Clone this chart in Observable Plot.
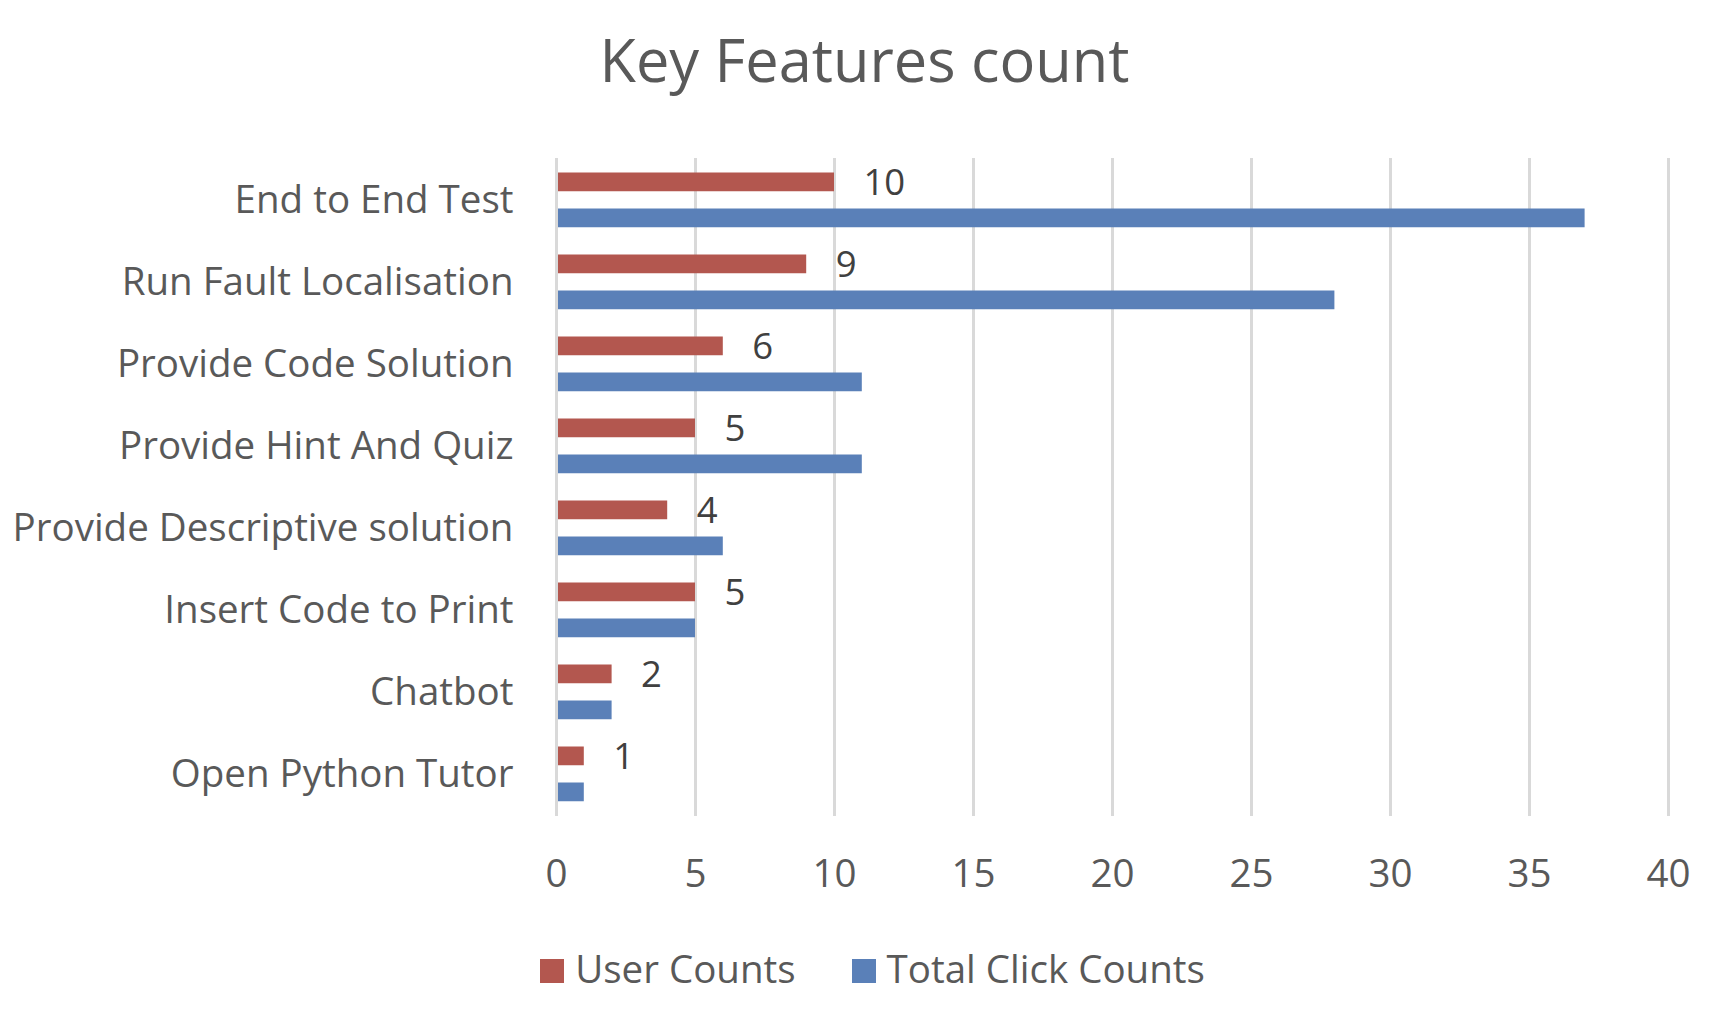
<!DOCTYPE html>
<html>
<head>
<meta charset="utf-8">
<script src="https://cdn.jsdelivr.net/npm/d3@7"></script>
<script src="https://cdn.jsdelivr.net/npm/@observablehq/plot@0.6"></script>
<style>
  html, body { margin: 0; padding: 0; background: #fff; }
  body { width: 1711px; height: 1009px; overflow: hidden; font-family: "Open Sans", sans-serif; }
  #title { box-sizing: border-box; height: 110px; padding-top: 29px; padding-left: 18px; text-align: center;
           font-size: 59.5px; line-height: 59.5px; color: #595959; }
  #chart svg { display: block; }
  #legend { display: flex; justify-content: center; align-items: center; margin-top: 19px; padding-left: 34px;
            font-size: 38.5px; line-height: 38px; color: #595959; }
  .item { display: flex; align-items: center; }
  .sw { width: 24px; height: 24px; margin-right: 11px; transform: translateY(3px); }
</style>
</head>
<body>
<div id="title">Key Features count</div>
<div id="chart"></div>
<div id="legend"></div>
<script>
const categories = ["End to End Test", "Run Fault Localisation", "Provide Code Solution", "Provide Hint And Quiz",
  "Provide Descriptive solution", "Insert Code to Print", "Chatbot", "Open Python Tutor"];
const userCounts = [10, 9, 6, 5, 4, 5, 2, 1];
const totalClickCounts = [37, 28, 11, 11, 6, 5, 2, 1];
const seriesNames = ["User Counts", "Total Click Counts"];
const seriesColors = ["#B3574F", "#5A80B8"];
const xTicks = [0, 5, 10, 15, 20, 25, 30, 35, 40];

const data = categories.map((c, i) => ({cat: c, user: userCounts[i], total: totalClickCounts[i]}));

const plot = Plot.plot({
  width: 1711,
  height: 820,
  marginTop: 48,
  marginBottom: 114,
  marginLeft: 556,
  marginRight: 43,
  style: {fontFamily: "Open Sans", fontSize: "38.5px", color: "#595959", background: "#fff"},
  x: {domain: [0, 40], ticks: xTicks, tickSize: 0, tickPadding: 43, label: null},
  y: {domain: categories, padding: 0, tickSize: 0, tickPadding: 43, label: null},
  marks: [
    Plot.ruleX(xTicks, {x: d => d, stroke: "#D9D9D9", strokeWidth: 3}),
    Plot.barX(data, {x: "user", y: "cat", fill: seriesColors[0], insetTop: 13.5, insetBottom: 49.75}),
    Plot.barX(data, {x: "total", y: "cat", fill: seriesColors[1], insetTop: 49.5, insetBottom: 13.75}),
    Plot.ruleX([0], {stroke: "#D9D9D9", strokeWidth: 3}),
    Plot.text(data, {x: "user", y: "cat", text: d => String(d.user), textAnchor: "start", dx: 29, dy: -17,
      fill: "#404040", fontSize: 36.5})
  ]
});
document.getElementById("chart").appendChild(plot);

const legend = document.getElementById("legend");
seriesNames.forEach((name, i) => {
  const item = document.createElement("div");
  item.className = "item";
  item.style.marginRight = i === 0 ? "56px" : "0";
  const sw = document.createElement("div");
  sw.className = "sw";
  sw.style.background = seriesColors[i];
  const label = document.createElement("span");
  label.textContent = name;
  item.appendChild(sw);
  item.appendChild(label);
  legend.appendChild(item);
});
</script>
</body>
</html>
